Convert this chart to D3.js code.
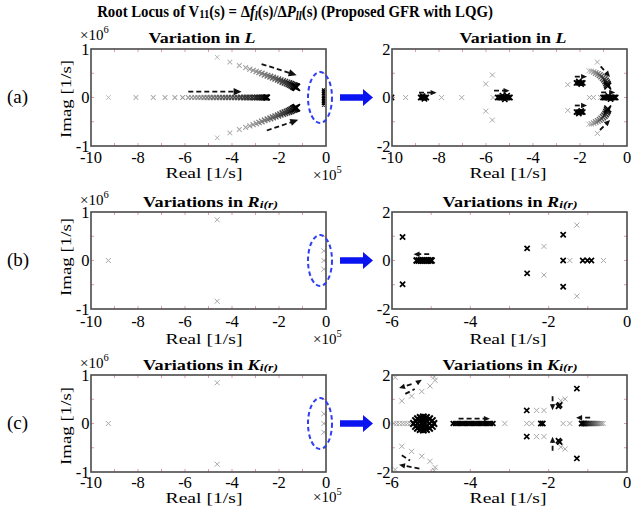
<!DOCTYPE html>
<html>
<head>
<meta charset="utf-8">
<script src="https://cdn.jsdelivr.net/npm/d3@7"></script>
<style>
  body { margin: 0; background: #fff; }
  svg { font-family: "Liberation Serif", "Times New Roman", Times, serif; }
</style>
</head>
<body>
<script>
// ---------- data: [real, imag] ----------
// wide views: real in 1e5 1/s, imag in 1e6 1/s
var aWideAxis = [-9.26, -8.09, -7.35, -6.85, -6.43, -6.10, -5.86, -5.72, -5.58, -5.45, -5.32, -5.19,
  -5.06, -4.93, -4.80, -4.67, -4.54, -4.41, -4.28, -4.15, -4.02, -3.89, -3.76, -3.63, -3.50, -3.38,
  -3.26, -3.14, -3.03, -2.93, -2.84, -2.76, -2.69, -2.63, -2.58, -2.54, -2.51];
var aWideUpper = [[-4.63, 0.83], [-4.09, 0.73], [-3.69, 0.66], [-3.42, 0.615], [-3.24, 0.585],
  [-3.10, 0.56], [-2.97, 0.535], [-2.85, 0.515], [-2.73, 0.495], [-2.61, 0.47], [-2.49, 0.45],
  [-2.37, 0.43], [-2.26, 0.41], [-2.15, 0.39], [-2.04, 0.37], [-1.94, 0.35], [-1.84, 0.33],
  [-1.75, 0.315], [-1.66, 0.30], [-1.58, 0.285], [-1.51, 0.27], [-1.45, 0.255], [-1.39, 0.24],
  [-1.34, 0.23], [-1.30, 0.22], [-1.26, 0.21]];
var aWideOrigin = [[-0.11, 0.155], [-0.11, 0.12], [-0.11, 0.085], [-0.11, 0.05], [-0.11, 0.015],
  [-0.11, -0.02], [-0.11, -0.055], [-0.11, -0.09], [-0.11, -0.125], [-0.11, -0.155]];
var aWideArrows = [[-5.86, 0.12, -3.59, 0.12], [-2.74, 0.69, -1.25, 0.46], [-2.52, -0.68, -1.18, -0.46]];

var bcWideOpen = [[-9.26, 0], [-4.63, 0.84], [-4.63, -0.84], [-0.09, 0.2], [-0.09, 0], [-0.09, -0.18]];

// zoomed views: 1/s
var aZoomGray = [[-9.42, 0], [-7.89, 0], [-7.03, 0], [-6.01, 0.56], [-6.01, -0.56], [-5.73, 0.93],
  [-5.73, -0.93], [-5.70, 0], [-2.52, 0.53], [-2.52, -0.53], [-1.60, 0], [-1.43, 0], [-1.12, 0],
  [-1.26, 1.46], [-1.26, -1.48]];
var aZoomDark = [[-10.02, 0],
  [-8.78, 0], [-8.72, 0], [-8.66, 0], [-8.60, 0], [-8.54, 0], [-8.70, 0.06], [-8.62, -0.06],
  [-5.50, 0], [-5.44, 0], [-5.38, 0], [-5.32, 0], [-5.26, 0], [-5.20, 0], [-5.14, 0], [-5.08, 0],
  [-5.02, 0], [-4.98, 0], [-5.30, 0.08], [-5.20, -0.08], [-5.10, 0.08],
  [-2.15, 0.60], [-2.08, 0.60], [-2.01, 0.60], [-1.94, 0.60], [-1.88, 0.60], [-2.05, 0.66], [-1.95, 0.55],
  [-2.15, -0.60], [-2.08, -0.60], [-2.01, -0.60], [-1.94, -0.60], [-1.88, -0.60], [-2.05, -0.66], [-1.95, -0.55],
  [-1.02, 0], [-0.96, 0], [-0.90, 0], [-0.84, 0], [-0.78, 0], [-0.72, 0], [-0.66, 0], [-0.60, 0],
  [-0.54, 0], [-0.48, 0], [-0.80, 0.07], [-0.70, -0.07]];
var aZoomArc = [[-1.62, 1.10], [-1.52, 1.08], [-1.42, 1.05], [-1.33, 1.01], [-1.24, 0.97],
  [-1.16, 0.92], [-1.09, 0.87], [-1.02, 0.81], [-0.96, 0.75], [-0.91, 0.68], [-0.87, 0.61],
  [-0.84, 0.54], [-0.82, 0.47]];
var aZoomArrows = [[-8.85, 0.2, -8.1, 0.2], [-5.66, 0.28, -5.0, 0.28], [-2.22, 0.86, -1.7, 0.86],
  [-2.22, -0.33, -1.7, -0.33], [-1.1, 0.21, -0.5, 0.21], [-1.12, 1.28, -0.72, 0.85],
  [-1.15, -1.34, -0.72, -0.93]];

var bZoomGray = [[-2.12, 0.58], [-2.12, -0.60], [-1.46, 0], [-1.28, 1.46], [-1.28, -1.47], [-0.60, 0]];
var bZoomDark = [[-5.73, 0.97], [-5.73, -0.98], [-2.55, 0.50], [-2.55, -0.53], [-1.63, 1.06],
  [-1.63, -1.08], [-1.63, 0], [-1.13, 0], [-1.01, 0], [-0.91, 0]];
var bZoomCluster = [[-5.37, 0], [-5.32, 0], [-5.27, 0], [-5.22, 0], [-5.17, 0], [-5.12, 0],
  [-5.07, 0], [-5.02, 0], [-4.99, 0]];
var bZoomArrows = [[-5.05, 0.26, -5.45, 0.26]];

var cZoomGray = [[-5.92, 1.90], [-5.75, 0.93], [-5.50, 1.13], [-5.24, 1.32], [-5.03, 1.55], [-4.90, 1.78],
  [-4.92, 1.92], [-5.92, -1.90], [-5.75, -0.94], [-5.50, -1.15], [-5.24, -1.35], [-5.03, -1.56],
  [-4.90, -1.81], [-4.92, -1.93], [-5.95, 0], [-5.88, 0], [-5.81, 0], [-5.74, 0], [-5.67, 0],
  [-5.60, 0], [-5.53, 0], [-3.12, 0], [-2.56, 0], [-2.43, 0], [-2.31, 0.54], [-2.12, 0.54],
  [-2.31, -0.54], [-2.12, -0.54], [-1.69, 0.94], [-1.58, 1.01], [-1.69, -0.97], [-1.58, -1.05],
  [-1.63, 0], [-1.46, 0]];
var cZoomDark = [[-2.56, 0.54], [-2.56, -0.54], [-2.20, 0], [-2.15, 0], [-1.75, 0.71], [-1.72, 0.76],
  [-1.75, -0.71], [-1.72, -0.76], [-1.28, 1.44], [-1.28, -1.44]];
var cZoomBlob = [[-5.45, 0], [-5.40, 0.12], [-5.40, -0.12], [-5.35, 0.20], [-5.35, 0], [-5.35, -0.20],
  [-5.28, 0.25], [-5.28, 0.10], [-5.28, -0.10], [-5.28, -0.25], [-5.20, 0.27], [-5.20, 0.12],
  [-5.20, 0], [-5.20, -0.12], [-5.20, -0.27], [-5.12, 0.25], [-5.12, 0.10], [-5.12, -0.10],
  [-5.12, -0.25], [-5.04, 0.20], [-5.04, 0], [-5.04, -0.20], [-4.97, 0.12], [-4.97, -0.12], [-4.93, 0]];
var cZoomBar = [-4.44, -4.38, -4.32, -4.26, -4.20, -4.14, -4.08, -4.02, -3.96, -3.90, -3.84, -3.78,
  -3.72, -3.66, -3.60, -3.54, -3.48, -3.42];
var cZoomTail = [-0.60, -0.64, -0.68, -0.72, -0.76, -0.80, -0.84, -0.88, -0.92, -0.96, -1.00,
  -1.04, -1.08, -1.12, -1.16];
var cZoomArrows = [[-4.3, 0.2, -3.5, 0.2, 1], [-0.94, 0.24, -1.3, 0.24, 1], [-1.9, 1.12, -1.9, 0.55, 1],
  [-1.9, -1.12, -1.9, -0.55, 1], [-5.5, 1.62, -5.82, 1.46, 1], [-5.66, 1.22, -5.42, 1.42, 0],
  [-5.36, 1.68, -5.24, 1.8, 1], [-5.75, -1.31, -5.54, -1.53, 0], [-5.3, -1.86, -5.82, -1.7, 1]];

var wideXTicks = [-10, -8, -6, -4, -2, 0];
var zoomXTicksA = [-10, -8, -6, -4, -2, 0];
var zoomXTicksBC = [-6, -4, -2, 0];
var wideYTicks = [-1, 0, 1];
var zoomYTicks = [-2, 0, 2];

// ---------- layout ----------
var W = 631, H = 516;
var svg = d3.select('body').append('svg').attr('width', W).attr('height', H)
  .attr('font-family', '"Liberation Serif", "Times New Roman", Times, serif');
var rowsY = [[49, 146], [212, 309], [375, 472]];
var tickDrop = [16.5, 18, 15.5];
var GRAY = '#a8a8a8';

function conj(pts) { return pts.map(function(d) { return [d[0], -d[1]]; }); }
function onAxis(xs) { return xs.map(function(x) { return [x, 0]; }); }

function makePanel(x0, x1, row, xd, yd, xt, yt, mx, my, id) {
  var p = {};
  p.x = d3.scaleLinear().domain(xd).range([x0, x1]);
  p.y = d3.scaleLinear().domain(yd).range([rowsY[row][1], rowsY[row][0]]);
  p.g = svg.append('g');
  svg.append('clipPath').attr('id', id).append('rect')
    .attr('x', x0).attr('y', rowsY[row][0]).attr('width', x1 - x0).attr('height', rowsY[row][1] - rowsY[row][0]);
  // inward reddish ticks
  var tk = p.g.append('g').attr('stroke', '#e79a9a').attr('stroke-width', 1);
  d3.range(xd[0] + mx, xd[1], mx).forEach(function(v) {
    tk.append('line').attr('x1', p.x(v)).attr('x2', p.x(v)).attr('y1', p.y.range()[1]).attr('y2', p.y.range()[1] + 3);
    tk.append('line').attr('x1', p.x(v)).attr('x2', p.x(v)).attr('y1', p.y.range()[0]).attr('y2', p.y.range()[0] - 3);
  });
  d3.range(yd[0] + my, yd[1], my).forEach(function(v) {
    tk.append('line').attr('x1', x0).attr('x2', x0 + 3).attr('y1', p.y(v)).attr('y2', p.y(v));
    tk.append('line').attr('x1', x1).attr('x2', x1 - 3).attr('y1', p.y(v)).attr('y2', p.y(v));
  });
  p.m = p.g.append('g').attr('clip-path', 'url(#' + id + ')');
  p.g.append('rect').attr('x', x0).attr('y', rowsY[row][0]).attr('width', x1 - x0)
    .attr('height', rowsY[row][1] - rowsY[row][0]).attr('fill', 'none').attr('stroke', '#4a4a4a').attr('stroke-width', 1.6);
  // tick labels
  xt.forEach(function(v) {
    p.g.append('text').attr('x', p.x(v)).attr('y', rowsY[row][1] + tickDrop[row])
      .attr('text-anchor', 'middle').attr('font-size', 16.5).text(v);
  });
  yt.forEach(function(v) {
    p.g.append('text').attr('x', x0 - 1.5).attr('y', p.y(v) + 5.5)
      .attr('text-anchor', 'end').attr('font-size', 16.5).text(v);
  });
  return p;
}

function xMarks(p, pts, color, size, sw) {
  p.m.append('g').selectAll('path').data(pts).join('path')
    .attr('d', function(d) {
      var cx = p.x(d[0]), cy = p.y(d[1]), s = size;
      return 'M' + (cx - s) + ',' + (cy - s) + 'L' + (cx + s) + ',' + (cy + s) +
        'M' + (cx - s) + ',' + (cy + s) + 'L' + (cx + s) + ',' + (cy - s);
    })
    .attr('stroke', color).attr('stroke-width', sw).attr('fill', 'none');
}

// gain locus: light grey at start, black at the end
function locus(p, pts, s0, s1) {
  var c = d3.interpolateRgb('#b8b8b8', '#000');
  var n = pts.length;
  pts.forEach(function(d, i) {
    var t = n > 1 ? i / (n - 1) : 1;
    xMarks(p, [d], c(t), s0 + (s1 - s0) * t, 1 + 0.7 * t);
  });
}

function arrows(p, list, head) {
  list.forEach(function(a) {
    var x1 = p.x(a[0]), y1 = p.y(a[1]), x2 = p.x(a[2]), y2 = p.y(a[3]);
    var ang = Math.atan2(y2 - y1, x2 - x1);
    var hasHead = a.length < 5 || a[4];
    var ex = hasHead ? x2 - Math.cos(ang) * head * 0.8 : x2, ey = hasHead ? y2 - Math.sin(ang) * head * 0.8 : y2;
    p.m.append('line').attr('x1', x1).attr('y1', y1).attr('x2', ex).attr('y2', ey)
      .attr('stroke', '#111').attr('stroke-width', 1.8).attr('stroke-dasharray', '5,3');
    if (hasHead) {
      var w = head * 0.45;
      var bx = x2 - Math.cos(ang) * head, by = y2 - Math.sin(ang) * head;
      p.m.append('path')
        .attr('d', 'M' + x2 + ',' + y2 + 'L' + (bx - Math.sin(ang) * w) + ',' + (by + Math.cos(ang) * w) +
          'L' + (bx + Math.sin(ang) * w) + ',' + (by - Math.cos(ang) * w) + 'Z')
        .attr('fill', '#111');
    }
  });
}

// text squeezed/stretched horizontally to a measured width
function addText(x, y, parts, o) {
  var t = svg.append('text').attr('x', 0).attr('y', 0)
    .attr('font-size', o.size).attr('text-anchor', o.anchor || 'middle')
    .attr('font-weight', o.bold ? 'bold' : null);
  parts.forEach(function(q) {
    if (typeof q === 'string') { t.append('tspan').text(q); return; }
    var s = t.append('tspan').text(q.t);
    if (q.i) s.attr('font-style', 'italic');
    if (q.s) s.attr('font-size', o.size * q.s);
    if (q.dy) s.attr('dy', q.dy);
  });
  var sx = 1;
  if (o.len) sx = o.len / t.node().getComputedTextLength();
  t.attr('transform', 'translate(' + x + ',' + y + ')' + (o.rotate ? ' rotate(-90)' : '') + ' scale(' + sx + ',1)');
  return t;
}

// ---------- panels ----------
var aW = makePanel(91, 326, 0, [-10, 0], [-1, 1], wideXTicks, wideYTicks, 1, 0.5, 'cAW');
var aZ = makePanel(392, 627, 0, [-10, 0], [-2, 2], zoomXTicksA, zoomYTicks, 1, 1, 'cAZ');
var bW = makePanel(91, 326, 1, [-10, 0], [-1, 1], wideXTicks, wideYTicks, 1, 0.5, 'cBW');
var bZ = makePanel(392, 627, 1, [-6, 0], [-2, 2], zoomXTicksBC, zoomYTicks, 1, 1, 'cBZ');
var cW = makePanel(91, 326, 2, [-10, 0], [-1, 1], wideXTicks, wideYTicks, 1, 0.5, 'cCW');
var cZ = makePanel(392, 627, 2, [-6, 0], [-2, 2], zoomXTicksBC, zoomYTicks, 1, 1, 'cCZ');

// (a) wide
locus(aW, onAxis(aWideAxis), 2.3, 2.8);
locus(aW, aWideUpper, 2.3, 3.6);
locus(aW, conj(aWideUpper), 2.3, 3.6);
xMarks(aW, aWideOrigin, '#000', 1.4, 1.3);
arrows(aW, aWideArrows, 8);

// (a) zoom
xMarks(aZ, aZoomGray, GRAY, 2.5, 1);
xMarks(aZ, aZoomDark, '#000', 2.6, 1.6);
locus(aZ, aZoomArc, 2.5, 3.4);
locus(aZ, conj(aZoomArc), 2.5, 3.4);
arrows(aZ, aZoomArrows, 6);

// (b)
xMarks(bW, bcWideOpen, GRAY, 2.5, 1);
xMarks(bZ, bZoomGray, GRAY, 2.5, 1);
xMarks(bZ, bZoomDark, '#000', 2.6, 1.7);
xMarks(bZ, bZoomCluster, '#000', 3, 2);
arrows(bZ, bZoomArrows, 6);

// (c)
xMarks(cW, bcWideOpen, GRAY, 2.5, 1);
xMarks(cZ, cZoomGray, GRAY, 2.6, 1);
xMarks(cZ, cZoomDark, '#000', 2.6, 1.7);
xMarks(cZ, cZoomBlob, '#000', 3.2, 2);
xMarks(cZ, onAxis(cZoomBar), '#000', 2.4, 1.6);
locus(cZ, onAxis(cZoomTail), 2.4, 2.6);
arrows(cZ, cZoomArrows, 6);

// ---------- blue callouts ----------
rowsY.forEach(function(r) {
  var cy = (r[0] + r[1]) / 2;
  svg.append('ellipse').attr('cx', 320).attr('cy', cy).attr('rx', 12).attr('ry', 25.5)
    .attr('fill', 'none').attr('stroke', '#2f3ff2').attr('stroke-width', 2).attr('stroke-dasharray', '4.5,3');
  svg.append('path')
    .attr('d', 'M340,' + (cy - 3.3) + 'L363,' + (cy - 3.3) + 'L363,' + (cy - 8.5) + 'L373,' + cy +
      'L363,' + (cy + 8.5) + 'L363,' + (cy + 3.3) + 'L340,' + (cy + 3.3) + 'Z')
    .attr('fill', '#0a14f0');
});

// ---------- texts ----------
addText(295, 17, ['Root Locus of V', { t: '11', s: 0.72, dy: 1 }, { t: '(s) = Δ', dy: -1 }, { t: 'f', i: 1 },
  { t: 'l', i: 1, s: 0.72, dy: 3 }, { t: '(s)/Δ', dy: -3 }, { t: 'P', i: 1 }, { t: 'll', i: 1, s: 0.72, dy: 3 },
  { t: '(s) (Proposed GFR with LQG)', dy: -3 }], { size: 16.5, bold: 1, len: 396 });

var titleRows = [
  { y: 43, parts: ['Variation in ', { t: 'L', i: 1 }], len: 107, cx: [202, 513] },
  { y: 207, parts: ['Variations in ', { t: 'R', i: 1 }, { t: 'i(r)', i: 1, s: 0.75, dy: 1 }], len: 135, cx: [210.5, 510] },
  { y: 370, parts: ['Variations in ', { t: 'K', i: 1 }, { t: 'i(r)', i: 1, s: 0.75, dy: 1 }], len: 135, cx: [210.5, 510] }
];
var realY = [178, 344, 502.5];
var expY = [[40, 180], [205, 344], [368, 502]];
var imagY = [99, 257, 426];
var rowNames = ['(a)', '(b)', '(c)'];
var rowLabelY = [103, 266, 429];

titleRows.forEach(function(tr, i) {
  tr.cx.forEach(function(cx) { addText(cx, tr.y, tr.parts, { size: 15, bold: 1, len: tr.len }); });
  addText(204, realY[i], ['Real [1/s]'], { size: 15, len: 77 });
  addText(508, realY[i], ['Real [1/s]'], { size: 15, len: 77 });
  addText(80, expY[i][0], ['×10', { t: '6', s: 0.7, dy: -7 }], { size: 15, anchor: 'start' });
  addText(313, expY[i][1], ['×10', { t: '5', s: 0.7, dy: -7 }], { size: 15, anchor: 'start' });
  addText(71, imagY[i], ['Imag [1/s]'], { size: 15.5, len: 78, rotate: 1 });
  addText(7, rowLabelY[i], [rowNames[i]], { size: 19, anchor: 'start' });
});
</script>
</body>
</html>
